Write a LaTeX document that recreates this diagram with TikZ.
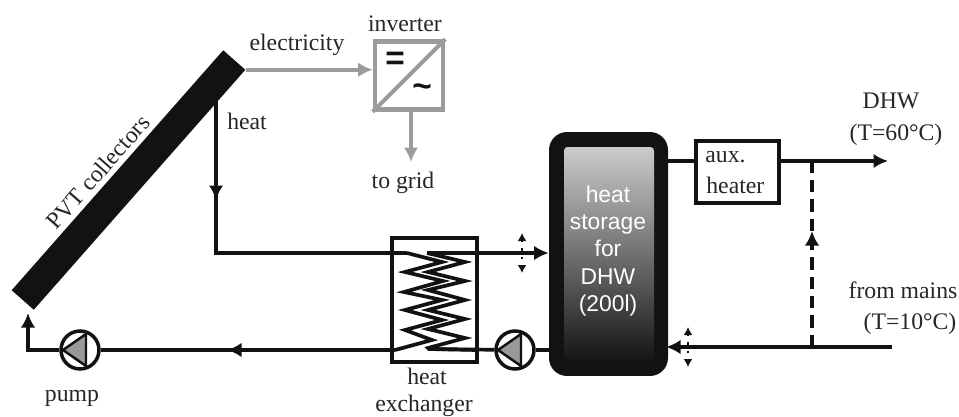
\documentclass[tikz,border=0pt]{standalone}
\usepackage{fontspec}
\setmainfont{Liberation Serif}
\setsansfont{Liberation Sans}
\usetikzlibrary{arrows.meta,calc}
\definecolor{ink}{HTML}{111312}
\definecolor{elec}{HTML}{9C9C9C}
\begin{document}
\begin{tikzpicture}[
    x=0.02cm, y=-0.02cm,
    >={Latex[length=2.9mm,width=2.9mm]},
    pipe/.style={draw=ink, line width=2.1pt},
    wire/.style={draw=elec, line width=2.3pt},
    box/.style={rectangle, draw=ink, line width=2pt, inner sep=0pt},
    wheel/.style={circle, draw=ink, fill=white, line width=2pt, minimum size=0.76cm, inner sep=0pt},
    txt/.style={font=\fontsize{13.5}{15}\selectfont, text=black!85, inner sep=0pt}
]
    \useasboundingbox (0, 0) rectangle (959, 416);

    % PVT collectors
    \node[fill=ink, rotate=48.6, minimum width=6.4cm, minimum height=0.59cm, inner sep=0pt] (panel) at (128.5, 180) {};
    \node[txt, rotate=48.6] (panellabel) at (98, 172) {PVT collectors};
    \coordinate (heatout) at (216, 100);
    \coordinate (heatbase) at (216, 186);
    \coordinate (heatmid) at (216, 200);
    \coordinate (heatcorner) at (216, 253);
    \node[txt] (heatlabel) at (247, 121) {heat};

    % Inverter
    \node[rectangle, draw=elec, line width=2.6pt, minimum size=1.36cm, inner sep=0pt] (inverter) at (409, 75.5) {};
    \draw[wire] (inverter.south west) -- (inverter.north east);
    \node[font=\sffamily\bfseries\fontsize{19}{19}\selectfont, text=ink, inner sep=0pt] (invdc) at (395, 61) {=};
    \node[font=\sffamily\bfseries\fontsize{19}{19}\selectfont, text=ink, inner sep=0pt] (invac) at (422, 91) {\char"7E};
    \node[txt] (invlabel) at (405, 24) {inverter};
    \node[txt] (eleclabel) at (297, 45) {electricity};
    \node[txt] (gridlabel) at (403, 183) {to grid};
    \coordinate (gridstart) at (411, 110);
    \coordinate (gridend) at (411, 162);
    \draw[wire, ->] (panel.south east) -- (panel.south east -| inverter.west);
    \draw[wire, ->] (gridstart) -- (gridend);

    % Heat exchanger
    \node[box, minimum width=1.7cm, minimum height=2.48cm] (hx) at (434.5, 300) {};
    \node[txt] (hxlabela) at (427, 376) {heat};
    \node[txt] (hxlabelb) at (424, 406) {exchanger};
    \coordinate (coilain) at (407, 253);
    \coordinate (coilaout) at (395, 350);
    \coordinate (coilbin) at (427, 253);
    \coordinate (coilbout) at (429, 349);
    \draw[pipe, line join=miter] (coilain) -- (442, 262) -- (405, 272) -- (443, 281) -- (404, 292) -- (442, 300) -- (405, 310)
        -- (442, 320) -- (405, 330) -- (432, 340) -- (coilaout);
    \draw[pipe, line join=miter] (coilbin) -- (465, 262) -- (428, 272) -- (465, 281) -- (428, 290) -- (465, 300) -- (428, 310)
        -- (465, 319) -- (428, 329) -- (465, 338) -- (428, 348) -- (coilbout) -- (477, 350);

    % Heat storage
    \node[rectangle, fill=ink, rounded corners=0.36cm, minimum width=2.38cm, minimum height=4.88cm] (store) at (608.5, 254) {};
    \node[rectangle, rounded corners=2pt, top color=black!20, bottom color=black!92, minimum width=1.8cm, minimum height=4.28cm,
        inner sep=0pt] (storein) at (609, 254) {};
    \node[font=\sffamily\fontsize{13}{15.5}\selectfont, text=white, align=center, inner sep=0pt] (storelabel) at (608, 251)
        {heat\\storage\\for\\DHW\\(200l)};

    % Pumps
    \node[wheel] (pumpa) at (80, 350) {};
    \node[wheel] (pumpb) at (515, 350) {};
    \foreach \p in {pumpa, pumpb} {
        \filldraw[draw=ink, fill=black!40, line width=1.4pt, line join=round] ($(\p)+(-17,0)$) -- ++(23,-16) -- ++(0,32) -- cycle;
    }
    \node[txt] (pumplabel) at (72, 398) {pump};

    % Aux heater
    \node[box, minimum width=1.66cm, minimum height=1.24cm] (aux) at (737.5, 172) {};
    \node[txt, anchor=west] (auxlabela) at (705, 157) {aux.};
    \node[txt, anchor=west] (auxlabelb) at (706, 185) {heater};
    \coordinate (auxin) at (696, 161);
    \coordinate (auxout) at (779, 161);
    \coordinate (dhwend) at (888, 161);
    \coordinate (mainsend) at (892, 347);
    \coordinate (mainsin) at (666, 347);
    \coordinate (bypasstop) at (812, 161);
    \coordinate (bypassmid) at (812, 231);
    \coordinate (bypassbot) at (812, 347);
    \node[txt] (dhwlabela) at (891, 101) {DHW};
    \node[txt] (dhwlabelb) at (896, 135) {(T=60°C)};
    \node[txt] (mainslabela) at (903, 290) {from mains};
    \node[txt] (mainslabelb) at (910, 324) {(T=10°C)};

    % Pipes
    \draw[pipe] (heatout) -- (heatcorner) -- (coilain);
    \draw[pipe, ->] (heatbase) -- (heatmid);
    \draw[pipe, ->] (coilbin) -- (store.west |- coilbin);
    \coordinate (returnmid) at (242, 350);
    \coordinate (returntip) at (227, 350);
    \draw[pipe] (coilaout) -- (pumpa);
    \draw[pipe, ->] (returnmid) -- (returntip);
    \coordinate (pumpcorner) at (28, 350);
    \coordinate (panelin) at (28, 313);
    \draw[pipe, ->] (pumpa) -- (pumpcorner) -- (panelin);
    \draw[pipe] (pumpb) -- (store.west |- pumpb);
    \draw[pipe] (coilbout) -- (pumpb);
    \draw[pipe] (store.east |- auxin) -- (auxin);
    \draw[pipe, ->] (auxout) -- (dhwend);
    \draw[pipe, ->] (mainsend) -- (mainsin);
    \draw[pipe, dash pattern=on 7pt off 4pt] (bypassbot) -- (bypasstop);
    \coordinate (bypassarrow) at (812, 250);
    \draw[pipe, ->] (bypassarrow) -- (bypassmid);

    % Flow markers
    \coordinate (marka) at (522, 233);
    \coordinate (markb) at (522, 273);
    \coordinate (markc) at (688, 327);
    \coordinate (markd) at (688, 367);
    \draw[ink, line width=0.9pt, dash pattern=on 1.2pt off 3.5pt, {Latex[length=1.6mm,width=1.8mm]}-{Latex[length=1.6mm,width=1.8mm]}] (marka) -- (markb);
    \draw[ink, line width=0.9pt, dash pattern=on 1.2pt off 3.5pt, {Latex[length=1.6mm,width=1.8mm]}-{Latex[length=1.6mm,width=1.8mm]}] (markc) -- (markd);
\end{tikzpicture}
\end{document}
